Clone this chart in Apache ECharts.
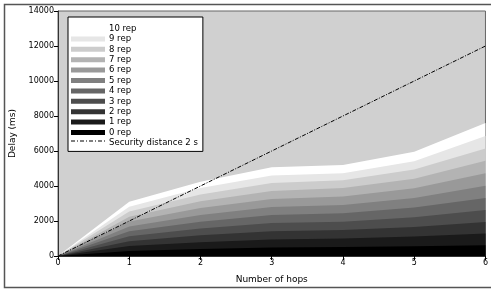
<!DOCTYPE html>
<html>
<head>
<meta charset="utf-8">
<script src="https://cdn.jsdelivr.net/npm/echarts@6/dist/echarts.min.js"></script>
<style>html,body{margin:0;padding:0;background:#fff;}#c{width:491px;height:291px;}</style>
</head>
<body>
<div id="c"></div>
<script>
const hops = [0, 1, 2, 3, 4, 5, 6];
const rep0  = [0, 290, 400, 480, 520, 560, 620];
const rep1  = [0, 570, 790, 950, 1000, 1110, 1280];
const rep2  = [0, 850, 1180, 1420, 1480, 1660, 1950];
const rep3  = [0, 1130, 1570, 1890, 1960, 2210, 2630];
const rep4  = [0, 1410, 1960, 2350, 2440, 2770, 3320];
const rep5  = [0, 1690, 2350, 2800, 2920, 3320, 4020];
const rep6  = [0, 1970, 2740, 3260, 3400, 3870, 4730];
const rep7  = [0, 2250, 3130, 3720, 3880, 4420, 5440];
const rep8  = [0, 2540, 3510, 4170, 4330, 4950, 6150];
const rep9  = [0, 2820, 3880, 4600, 4730, 5420, 6860];
const rep10 = [0, 3100, 4250, 5070, 5200, 5960, 7600];
const security = [0, 2000, 4000, 6000, 8000, 10000, 12000];
const repNames = ['0 rep','1 rep','2 rep','3 rep','4 rep','5 rep','6 rep','7 rep','8 rep','9 rep','10 rep'];
const repData = [rep0, rep1, rep2, rep3, rep4, rep5, rep6, rep7, rep8, rep9, rep10];
const repColors = ['#000000','#1a1a1a','#333333','#4d4d4d','#666666','#808080','#999999','#b3b3b3','#cccccc','#e6e6e6','#ffffff'];
const secName = 'Security distance 2 s';
const yTicks = [0, 2000, 4000, 6000, 8000, 10000, 12000, 14000];

const FONT = 'DejaVu Sans';
const series = [];
for (let i = 10; i >= 0; i--) {
  series.push({
    name: repNames[i],
    type: 'line',
    data: hops.map((h, j) => [h, repData[i][j]]),
    symbol: 'none',
    lineStyle: { width: 0 },
    itemStyle: { color: repColors[i] },
    areaStyle: { color: repColors[i], opacity: 1 },
    z: 2
  });
}
series.push({
  name: secName,
  type: 'line',
  data: hops.map((h, j) => [h, security[j]]),
  symbol: 'none',
  lineStyle: { color: '#000', width: 1, type: [4, 1.5, 1, 1.5] },
  itemStyle: { color: '#000' },
  z: 5
});

const dashDotIcon = 'path://M0,0 M34,5 M0,0H4V1H0Z M6,0H7V1H6Z M9,0H13V1H9Z M15,0H16V1H15Z M18,0H22V1H18Z M24,0H25V1H24Z M27,0H31V1H27Z M33,0H34V1H33Z';
const legendData = [];
for (let i = 10; i >= 0; i--) legendData.push({ name: repNames[i], icon: 'rect' });
legendData.push({ name: secName, icon: dashDotIcon });

const chart = echarts.init(document.getElementById('c'), null, { renderer: 'canvas' });
chart.setOption({
  animation: false,
  backgroundColor: '#fff',
  textStyle: { fontFamily: FONT },
  graphic: [{
    type: 'rect', shape: { x: 4.5, y: 4.5, width: 492, height: 283 },
    style: { fill: 'none', stroke: '#555', lineWidth: 1.5 }, z: -10, silent: true
  }],
  grid: { left: 58, top: 11, right: 4, bottom: 35, show: true, backgroundColor: '#d0d0d0', borderColor: '#666', borderWidth: 1 },
  legend: {
    orient: 'vertical', left: 68, top: 17,
    data: legendData,
    backgroundColor: '#fff', borderColor: '#000', borderWidth: 1, borderRadius: 0,
    padding: [3, 5, 0, 3],
    itemWidth: 34, itemHeight: 5, itemGap: -6.6,
    textStyle: { fontFamily: FONT, fontSize: 8.5, color: '#000', lineHeight: 10, padding: [0, 0, 7, -1] },
    selectedMode: false
  },
  xAxis: {
    type: 'value', min: 0, max: 6, interval: 1,
    name: 'Number of hops', nameLocation: 'middle', nameGap: 19,
    nameTextStyle: { fontFamily: FONT, fontSize: 9, color: '#000' },
    axisLine: { show: true, lineStyle: { color: '#333', width: 1 } },
    axisTick: { show: true, length: 4, lineStyle: { color: '#000' } },
    axisLabel: { fontFamily: FONT, fontSize: 8, color: '#000', margin: 3 },
    splitLine: { show: false }
  },
  yAxis: {
    type: 'value', min: 0, max: 14000, interval: 2000,
    name: 'Delay (ms)', nameLocation: 'middle', nameGap: 38,
    nameTextStyle: { fontFamily: FONT, fontSize: 9, color: '#000' },
    axisLine: { show: true, lineStyle: { color: '#333', width: 1 } },
    axisTick: { show: true, length: 4, lineStyle: { color: '#000' } },
    axisLabel: { fontFamily: FONT, fontSize: 8, color: '#000', margin: 4,
      formatter: v => yTicks.includes(v) ? String(v) : '' },
    splitLine: { show: false }
  },
  series: series
});
</script>
</body>
</html>
